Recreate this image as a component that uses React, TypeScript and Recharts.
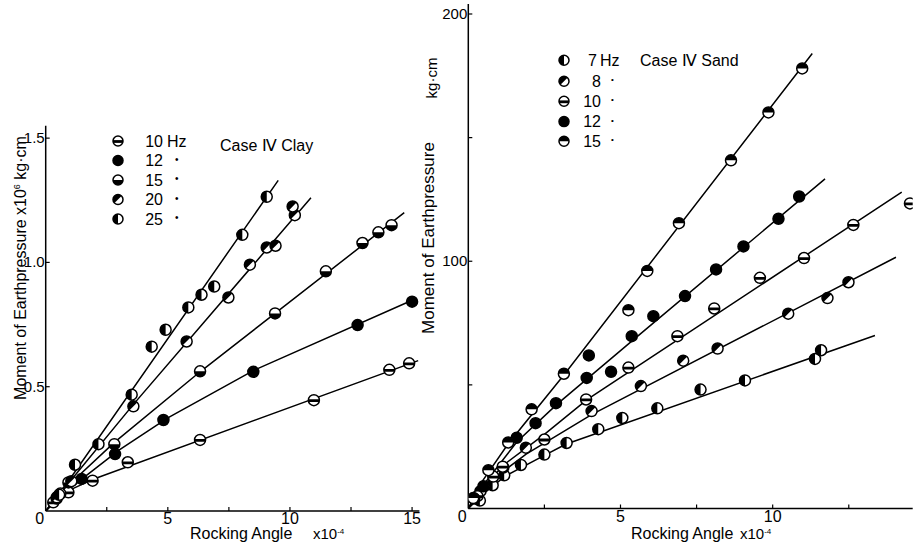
import React from 'react';
import { ScatterChart, Scatter, XAxis, YAxis } from 'recharts';

type P = { x: number; y: number };
const p = (arr: number[][]): P[] => arr.map(([x, y]) => ({ x, y }));

// ---------- Case IV Clay (moment x10^6 kg·cm vs rocking angle x10^-4) ----------
const clayFreqLabels = ['10', '12', '15', '20', '25'];
const clay10Hz = p([[0.31,0.035],[0.93,0.075],[1.92,0.122],[3.36,0.196],[6.32,0.286],[10.98,0.446],[14.07,0.568],[14.88,0.594]]);
const clay12Hz = p([[0.45,0.05],[1.47,0.129],[2.84,0.229],[4.82,0.366],[8.5,0.56],[12.77,0.748],[15.0,0.842]]);
const clay15Hz = p([[0.6,0.07],[0.93,0.115],[2.81,0.269],[6.32,0.562],[9.39,0.795],[11.47,0.964],[12.97,1.078],[13.62,1.121],[14.16,1.15]]);
const clay20Hz = p([[0.45,0.055],[1.05,0.12],[3.59,0.421],[5.77,0.682],[7.48,0.859],[8.36,0.991],[9.05,1.06],[9.41,1.067],[10.2,1.19],[10.11,1.225]]);
const clay25Hz = p([[0.55,0.065],[1.2,0.186],[2.16,0.269],[3.52,0.468],[4.34,0.661],[4.91,0.729],[5.84,0.819],[6.38,0.87],[6.9,0.903],[8.05,1.111],[9.05,1.264]]);
const clay10Line = p([[0,0],[0.5,0.05],[1,0.085],[2,0.13],[15.25,0.605]]);
const clay12Line = p([[0,0],[0.5,0.05],[1.5,0.13],[3,0.245],[5,0.375],[8.5,0.565],[15.05,0.85]]);
const clay15Line = p([[0,0],[1,0.11],[2.8,0.275],[6.32,0.56],[14.68,1.2]]);
const clay20Line = p([[0,0],[1,0.12],[3.6,0.43],[10.86,1.26]]);
const clay25Line = p([[0,0],[1,0.13],[9.52,1.33]]);
const clayXTicks = [0, 2.5, 5, 7.5, 10, 12.5, 15];
const clayYTicks = [0.5, 1.0, 1.5];

// ---------- Case IV Sand (moment kg·cm vs rocking angle x10^-4) ----------
const sandFreqLabels = ['7', '8', '10', '12', '15'];
const sand7Hz = p([[0.38,3.2],[0.8,9.4],[1.18,13.4],[1.73,17.6],[2.5,21.8],[3.23,26.5],[4.27,32.1],[5.06,36.6],[6.21,40.5],[7.63,48.1],[9.09,51.8],[11.39,60.5],[11.59,64.0]]);
const sand8Hz = p([[0.4,7],[1.15,16.6],[1.89,24.6],[4.05,39.4],[5.67,49.5],[7.06,59.8],[8.19,64.7],[10.51,78.8],[11.8,85.1],[12.49,91.5]]);
const sand10Hz = p([[0.3,5],[0.82,12.9],[1.13,16.9],[2.5,27.9],[3.87,44.1],[5.26,57.0],[6.87,69.7],[8.08,80.9],[9.58,93.3],[11.03,101.3],[12.65,114.7],[14.51,123.4]]);
const sand12Hz = p([[0.2,4],[0.5,9],[1.59,28.6],[2.21,34.5],[2.88,42.6],[3.89,52.8],[3.96,61.9],[4.69,55.3],[5.37,69.7],[6.08,77.8],[7.12,85.9],[8.14,96.7],[9.04,106],[10.19,117.2],[10.87,126.2]]);
const sand15Hz = p([[0.16,4.2],[0.66,15.5],[1.31,26.7],[2.08,40.1],[3.14,54.5],[5.26,80.2],[5.88,96.1],[6.92,115.4],[8.63,140.8],[9.86,160.2],[10.97,178.0]]);
const sand7Line = p([[0,0],[0.5,6],[1.2,13],[2.5,21.5],[3.2,26],[13.36,70]]);
const sand8Line = p([[0,0],[0.5,8],[1.2,15.5],[1.9,22],[4.05,38],[14.05,101.6]]);
const sand10Line = p([[0,0],[0.5,9],[1.2,18],[2.5,30],[3.9,44],[14.24,128]]);
const sand12Line = p([[0,0],[0.4,8],[1.6,27],[2.9,42],[5.4,68],[11.72,133.3]]);
const sand15Line = p([[0,0],[0.4,10],[1.3,26],[3.14,54],[11.3,184]]);
const sandXTicks = [0, 2.5, 5, 7.5, 10, 12.5];
const sandYTicks = [50, 100, 150, 200];

const FONT = '"Liberation Sans", Arial, sans-serif';

type Kind = 'solid' | 'top' | 'bottom' | 'left' | 'diag' | 'bar';
const clayKinds: Kind[] = ['bar', 'solid', 'bottom', 'diag', 'left'];
const sandKinds: Kind[] = ['left', 'diag', 'bar', 'solid', 'top'];

function Marker({ cx, cy, kind, r = 5.5 }: { cx: number; cy: number; kind: Kind; r?: number }) {
  let fill: React.ReactNode = null;
  const d = r * 0.7071;
  if (kind === 'solid') fill = <circle cx={cx} cy={cy} r={r} fill="#000" />;
  if (kind === 'top') fill = <path d={`M${cx - r},${cy} A${r},${r} 0 0 1 ${cx + r},${cy} Z`} fill="#000" />;
  if (kind === 'bottom') fill = <path d={`M${cx - r},${cy} A${r},${r} 0 0 0 ${cx + r},${cy} Z`} fill="#000" />;
  if (kind === 'left') fill = <path d={`M${cx},${cy - r} A${r},${r} 0 0 0 ${cx},${cy + r} Z`} fill="#000" />;
  if (kind === 'diag') fill = <path d={`M${cx - d},${cy + d} A${r},${r} 0 0 1 ${cx + d},${cy - d} Z`} fill="#000" />;
  if (kind === 'bar') fill = <line x1={cx - r} y1={cy + 0.5} x2={cx + r} y2={cy + 0.5} stroke="#000" strokeWidth={2.8} />;
  return (
    <g>
      <circle cx={cx} cy={cy} r={r} fill="#fff" />
      {fill}
      <circle cx={cx} cy={cy} r={r} fill="none" stroke="#000" strokeWidth={1.5} />
    </g>
  );
}

const lineStyle = { stroke: '#000', strokeWidth: 1.5 };
const noShape = () => <g />;
const markerShape = (kind: Kind) => (props: any) => <Marker cx={props.cx} cy={props.cy} kind={kind} />;

const makeXTick = (zeroShift: number) => (props: any) => {
  const { x, y, payload } = props;
  const v = payload.value;
  const labelled = Number.isInteger(v / 5);
  return (
    <g>
      {v !== 0 && <line x1={x} y1={y} x2={x} y2={y - 4} stroke="#000" strokeWidth={1.2} />}
      {labelled && (
        <text x={x + (v === 0 ? zeroShift : 0)} y={y + 13} textAnchor="middle" fontSize={16} fontFamily={FONT} fill="#000">
          {String(v)}
        </text>
      )}
    </g>
  );
};

const makeYTick = (fmt: (v: number) => string) => (props: any) => {
  const { x, y, payload } = props;
  const label = fmt(payload.value);
  return (
    <g>
      <line x1={x} y1={y} x2={x + 4} y2={y} stroke="#000" strokeWidth={1.2} />
      {label && (
        <text x={x - 1} y={y + 5} textAnchor="end" fontSize={15} fontFamily={FONT} fill="#000">
          {label}
        </text>
      )}
    </g>
  );
};

const axisLine = { stroke: '#000', strokeWidth: 1.5 };
const AX_H = 30;
const AX_W = 40;

function ClayChart() {
  const series = [clay10Hz, clay12Hz, clay15Hz, clay20Hz, clay25Hz];
  const lines = [clay10Line, clay12Line, clay15Line, clay20Line, clay25Line];
  return (
    <ScatterChart width={914} height={548} margin={{ top: 125.7, right: 494.6, bottom: 37 - AX_H, left: 45.7 - AX_W }}>
      <XAxis type="number" dataKey="x" domain={[0, 15.3]} ticks={clayXTicks} tick={makeXTick(-6)} tickLine={false}
        tickSize={0} tickMargin={0} height={AX_H} axisLine={axisLine} allowDataOverflow interval={0} />
      <YAxis type="number" dataKey="y" domain={[0, 1.55]} ticks={clayYTicks} tick={makeYTick((v) => v.toFixed(1))}
        tickLine={false} tickSize={0} tickMargin={0} width={AX_W} axisLine={axisLine} allowDataOverflow interval={0} />
      {lines.map((l, i) => (
        <Scatter key={'l' + i} data={l} line={lineStyle} shape={noShape} isAnimationActive={false} legendType="none" />
      ))}
      {series.map((s, i) => (
        <Scatter key={'s' + i} data={s} shape={markerShape(clayKinds[i])} isAnimationActive={false} />
      ))}
    </ScatterChart>
  );
}

function SandChart() {
  const series = [sand7Hz, sand8Hz, sand10Hz, sand12Hz, sand15Hz];
  const lines = [sand7Line, sand8Line, sand10Line, sand12Line, sand15Line];
  return (
    <ScatterChart width={914} height={548} margin={{ top: 4.1, right: 1.3, bottom: 39.5 - AX_H, left: 468.3 - AX_W }}>
      <XAxis type="number" dataKey="x" domain={[0, 14.6]} ticks={sandXTicks} tick={makeXTick(-6)} tickLine={false}
        tickSize={0} tickMargin={0} height={AX_H} axisLine={axisLine} allowDataOverflow interval={0} />
      <YAxis type="number" dataKey="y" domain={[0, 204]} ticks={sandYTicks} tick={makeYTick((v) => (v % 100 === 0 ? String(v) : ''))}
        tickLine={false} tickSize={0} tickMargin={0} width={AX_W} axisLine={axisLine} allowDataOverflow interval={0} />
      {lines.map((l, i) => (
        <Scatter key={'l' + i} data={l} line={lineStyle} shape={noShape} isAnimationActive={false} legendType="none" />
      ))}
      {series.map((s, i) => (
        <Scatter key={'s' + i} data={s} shape={markerShape(sandKinds[i])} isAnimationActive={false} />
      ))}
    </ScatterChart>
  );
}

function Annotations() {
  const t = { fontFamily: FONT, fill: '#000' } as const;
  const clayRows = [141, 160.5, 180, 199.5, 219];
  const sandRows = [60.2, 81.2, 101.3, 121.6, 141.3];
  return (
    <svg width={914} height={548} style={{ position: 'absolute', left: 0, top: 0, pointerEvents: 'none' }}>
      {clayFreqLabels.map((lab, i) => (
        <g key={'cl' + i}>
          <Marker cx={118} cy={clayRows[i]} kind={clayKinds[i]} r={5} />
          <text x={163} y={clayRows[i] + 5.5} textAnchor="end" fontSize={16} {...t}>{lab}</text>
          {i === 0 ? (
            <text x={167} y={clayRows[i] + 5.5} fontSize={16} {...t}>Hz</text>
          ) : (
            <text x={175} y={clayRows[i] + 2} fontSize={10} {...t}>•</text>
          )}
        </g>
      ))}
      <text x={220} y={151} fontSize={16} {...t}>Case Ⅳ  Clay</text>

      {sandFreqLabels.map((lab, i) => (
        <g key={'sl' + i}>
          <Marker cx={564} cy={sandRows[i]} kind={sandKinds[i]} r={5} />
          <text x={i === 0 ? 597 : 601} y={sandRows[i] + 5.5} textAnchor="end" fontSize={16} {...t}>{lab}</text>
          {i === 0 ? (
            <text x={600} y={sandRows[i] + 5.5} fontSize={16} {...t}>Hz</text>
          ) : (
            <text x={611} y={sandRows[i] + 1} fontSize={8} {...t}>•</text>
          )}
        </g>
      ))}
      <text x={640} y={66} fontSize={16} {...t}>Case Ⅳ  Sand</text>

      <text x={190} y={539} fontSize={16} {...t}>Rocking Angle</text>
      <text x={313} y={539} fontSize={15} {...t}>x10<tspan dy={-5} fontSize={8}>-4</tspan></text>
      <text x={631} y={539} fontSize={16} {...t}>Rocking Angle</text>
      <text x={740} y={539} fontSize={15} {...t}>x10<tspan dy={-5} fontSize={8}>-4</tspan></text>

      <text transform="translate(26,268) rotate(-90)" textAnchor="middle" fontSize={16} {...t}>
        Moment of Earthpressure x10<tspan dy={-6} fontSize={9}>6</tspan><tspan dy={6}> kg·cm</tspan>
      </text>
      <text transform="translate(434,238) rotate(-90)" textAnchor="middle" fontSize={17} {...t}>Moment of Earthpressure</text>
      <text transform="translate(437,78) rotate(-90)" textAnchor="middle" fontSize={15} {...t}>kg·cm</text>
    </svg>
  );
}

export default function App() {
  return (
    <div style={{ position: 'absolute', left: 0, top: 0, width: 914, height: 548, background: '#fff' }}>
      <div style={{ position: 'absolute', left: 0, top: 0 }}><ClayChart /></div>
      <div style={{ position: 'absolute', left: 0, top: 0 }}><SandChart /></div>
      <Annotations />
    </div>
  );
}
